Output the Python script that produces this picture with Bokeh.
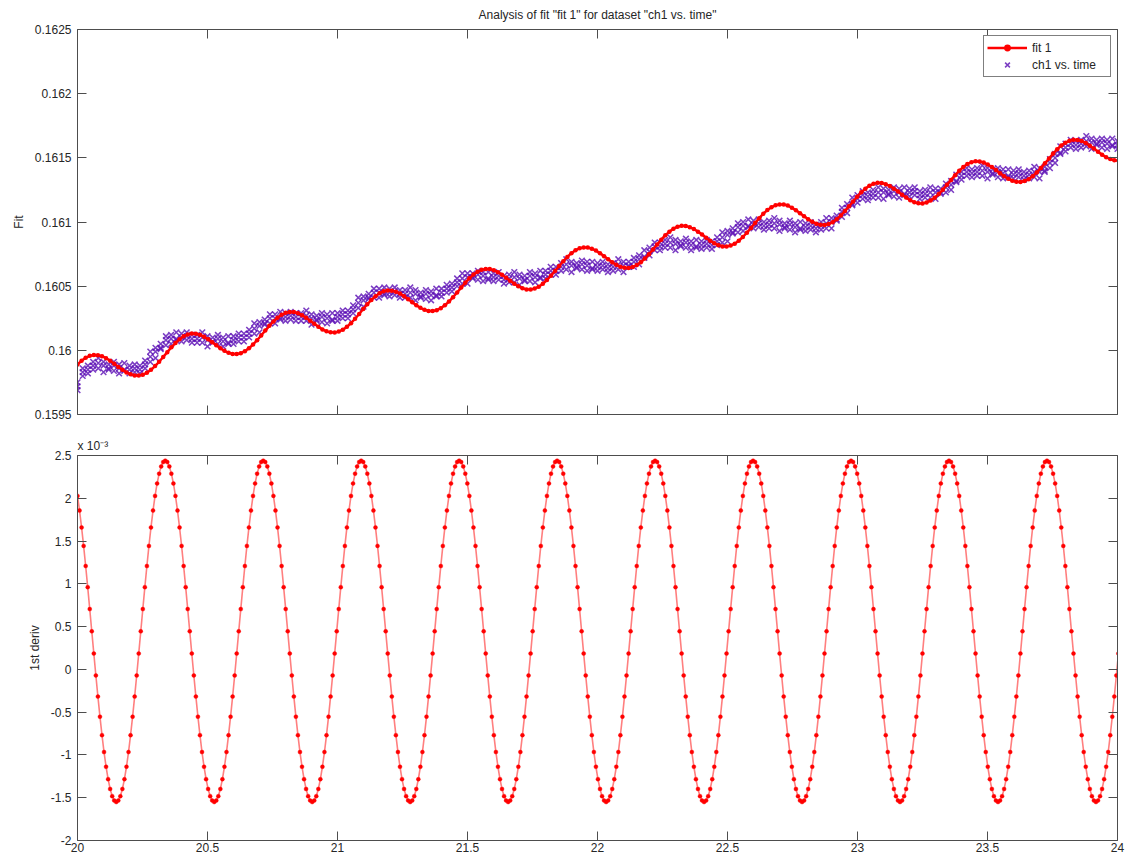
import numpy as np
from bokeh.plotting import figure
from bokeh.layouts import column
from bokeh.models import (Range1d, FixedTicker, LinearAxis, CustomJSTickFormatter,
                          Legend, LegendItem, Title)
from bokeh.embed import file_html
from bokeh.resources import INLINE

FONT = "Liberation Sans"
TXT = "#262626"
AXC = "#4d4d4d"

title_text = 'Analysis of fit "fit 1" for dataset "ch1 vs. time"'
x_ticks = [20, 20.5, 21, 21.5, 22, 22.5, 23, 23.5, 24]
fit_y_ticks = [0.1595, 0.16, 0.1605, 0.161, 0.1615, 0.162, 0.1625]
deriv_y_ticks = [-2, -1.5, -1, -0.5, 0, 0.5, 1, 1.5, 2, 2.5]

# fit 1 curve (sampled every 0.0157 from t = 20)
fit_t0, fit_dt = 20.0, 0.0157
fit1 = [
    0.159890, 0.159919, 0.159942, 0.159957, 0.159964, 0.159962, 0.159954, 0.159939, 0.159919, 0.159896, 0.159871, 0.159848, 0.159828, 0.159813, 0.159804, 0.159803, 0.159810, 0.159825, 0.159848, 0.159877, 0.159911, 0.159948, 0.159986, 0.160024,
    0.160057, 0.160087, 0.160109, 0.160124, 0.160131, 0.160130, 0.160121, 0.160106, 0.160086, 0.160063, 0.160039, 0.160016, 0.159996, 0.159981, 0.159972, 0.159971, 0.159978, 0.159993, 0.160016, 0.160045, 0.160079, 0.160116, 0.160154, 0.160191,
    0.160225, 0.160254, 0.160277, 0.160292, 0.160299, 0.160298, 0.160289, 0.160274, 0.160254, 0.160231, 0.160207, 0.160183, 0.160163, 0.160148, 0.160140, 0.160139, 0.160146, 0.160161, 0.160183, 0.160212, 0.160246, 0.160283, 0.160322, 0.160359,
    0.160393, 0.160422, 0.160445, 0.160460, 0.160467, 0.160465, 0.160457, 0.160442, 0.160422, 0.160399, 0.160374, 0.160351, 0.160331, 0.160316, 0.160307, 0.160306, 0.160313, 0.160328, 0.160351, 0.160380, 0.160414, 0.160451, 0.160489, 0.160527,
    0.160561, 0.160590, 0.160612, 0.160627, 0.160634, 0.160633, 0.160625, 0.160609, 0.160589, 0.160566, 0.160542, 0.160519, 0.160499, 0.160484, 0.160475, 0.160474, 0.160481, 0.160496, 0.160519, 0.160548, 0.160582, 0.160619, 0.160657, 0.160694,
    0.160728, 0.160757, 0.160780, 0.160795, 0.160802, 0.160801, 0.160792, 0.160777, 0.160757, 0.160734, 0.160710, 0.160686, 0.160666, 0.160651, 0.160643, 0.160642, 0.160649, 0.160664, 0.160686, 0.160715, 0.160749, 0.160786, 0.160825, 0.160862,
    0.160896, 0.160925, 0.160948, 0.160963, 0.160970, 0.160968, 0.160960, 0.160945, 0.160925, 0.160902, 0.160877, 0.160854, 0.160834, 0.160819, 0.160810, 0.160809, 0.160816, 0.160831, 0.160854, 0.160883, 0.160917, 0.160954, 0.160992, 0.161030,
    0.161064, 0.161093, 0.161115, 0.161130, 0.161137, 0.161136, 0.161128, 0.161112, 0.161092, 0.161069, 0.161045, 0.161022, 0.161002, 0.160987, 0.160978, 0.160977, 0.160984, 0.160999, 0.161022, 0.161051, 0.161085, 0.161122, 0.161160, 0.161197,
    0.161231, 0.161260, 0.161283, 0.161298, 0.161305, 0.161304, 0.161295, 0.161280, 0.161260, 0.161237, 0.161213, 0.161190, 0.161169, 0.161154, 0.161146, 0.161145, 0.161152, 0.161167, 0.161189, 0.161218, 0.161252, 0.161290, 0.161328, 0.161365,
    0.161399, 0.161428, 0.161451, 0.161466, 0.161473, 0.161471, 0.161463, 0.161448, 0.161428, 0.161405, 0.161380, 0.161357, 0.161337, 0.161322, 0.161313, 0.161312, 0.161319, 0.161334, 0.161357, 0.161386, 0.161420, 0.161457, 0.161495, 0.161533,
    0.161567, 0.161596, 0.161618, 0.161633, 0.161640, 0.161639, 0.161631, 0.161615, 0.161595, 0.161572, 0.161548, 0.161525, 0.161505, 0.161490, 0.161481, 0.161480,
]

# 1st derivative of fit 1, in units of 1e-3 (sampled every 0.00785 from t = 20)
deriv_t0, deriv_dt = 20.0, 0.00785
deriv_e3 = [
    2.028, 1.856, 1.659, 1.443, 1.208, 0.961, 0.705, 0.445, 0.185, -0.071, -0.318, -0.553, -0.769, -0.966, -1.138, -1.283, -1.398, -1.482, -1.533, -1.55, -1.533, -1.482, -1.398, -1.283, -1.138, -0.966, -0.769, -0.553, -0.318, -0.071, 0.185, 0.445, 0.705, 0.961, 1.208, 1.443, 1.659, 1.856, 2.028, 2.173, 2.288, 2.372, 2.423,
    2.44, 2.423, 2.372, 2.288, 2.173, 2.028, 1.856, 1.659, 1.443, 1.208, 0.961, 0.705, 0.445, 0.185, -0.071, -0.318, -0.553, -0.769, -0.966, -1.138, -1.283, -1.398, -1.482, -1.533, -1.55, -1.533, -1.482, -1.398, -1.283, -1.138, -0.966, -0.769, -0.553, -0.318, -0.071, 0.185, 0.445, 0.705, 0.961, 1.208, 1.443, 1.659, 1.856, 2.028, 2.173, 2.288, 2.372, 2.423,
    2.44, 2.423, 2.372, 2.288, 2.173, 2.028, 1.856, 1.659, 1.443, 1.208, 0.961, 0.705, 0.445, 0.185, -0.071, -0.318, -0.553, -0.769, -0.966, -1.138, -1.283, -1.398, -1.482, -1.533, -1.55, -1.533, -1.482, -1.398, -1.283, -1.138, -0.966, -0.769, -0.553, -0.318, -0.071, 0.185, 0.445, 0.705, 0.961, 1.208, 1.443, 1.659, 1.856, 2.028, 2.173, 2.288, 2.372, 2.423,
    2.44, 2.423, 2.372, 2.288, 2.173, 2.028, 1.856, 1.659, 1.443, 1.208, 0.961, 0.705, 0.445, 0.185, -0.071, -0.318, -0.553, -0.769, -0.966, -1.138, -1.283, -1.398, -1.482, -1.533, -1.55, -1.533, -1.482, -1.398, -1.283, -1.138, -0.966, -0.769, -0.553, -0.318, -0.071, 0.185, 0.445, 0.705, 0.961, 1.208, 1.443, 1.659, 1.856, 2.028, 2.173, 2.288, 2.372, 2.423,
    2.44, 2.423, 2.372, 2.288, 2.173, 2.028, 1.856, 1.659, 1.443, 1.208, 0.961, 0.705, 0.445, 0.185, -0.071, -0.318, -0.553, -0.769, -0.966, -1.138, -1.283, -1.398, -1.482, -1.533, -1.55, -1.533, -1.482, -1.398, -1.283, -1.138, -0.966, -0.769, -0.553, -0.318, -0.071, 0.185, 0.445, 0.705, 0.961, 1.208, 1.443, 1.659, 1.856, 2.028, 2.173, 2.288, 2.372, 2.423,
    2.44, 2.423, 2.372, 2.288, 2.173, 2.028, 1.856, 1.659, 1.443, 1.208, 0.961, 0.705, 0.445, 0.185, -0.071, -0.318, -0.553, -0.769, -0.966, -1.138, -1.283, -1.398, -1.482, -1.533, -1.55, -1.533, -1.482, -1.398, -1.283, -1.138, -0.966, -0.769, -0.553, -0.318, -0.071, 0.185, 0.445, 0.705, 0.961, 1.208, 1.443, 1.659, 1.856, 2.028, 2.173, 2.288, 2.372, 2.423,
    2.44, 2.423, 2.372, 2.288, 2.173, 2.028, 1.856, 1.659, 1.443, 1.208, 0.961, 0.705, 0.445, 0.185, -0.071, -0.318, -0.553, -0.769, -0.966, -1.138, -1.283, -1.398, -1.482, -1.533, -1.55, -1.533, -1.482, -1.398, -1.283, -1.138, -0.966, -0.769, -0.553, -0.318, -0.071, 0.185, 0.445, 0.705, 0.961, 1.208, 1.443, 1.659, 1.856, 2.028, 2.173, 2.288, 2.372, 2.423,
    2.44, 2.423, 2.372, 2.288, 2.173, 2.028, 1.856, 1.659, 1.443, 1.208, 0.961, 0.705, 0.445, 0.185, -0.071, -0.318, -0.553, -0.769, -0.966, -1.138, -1.283, -1.398, -1.482, -1.533, -1.55, -1.533, -1.482, -1.398, -1.283, -1.138, -0.966, -0.769, -0.553, -0.318, -0.071, 0.185, 0.445, 0.705, 0.961, 1.208, 1.443, 1.659, 1.856, 2.028, 2.173, 2.288, 2.372, 2.423,
    2.44, 2.423, 2.372, 2.288, 2.173, 2.028, 1.856, 1.659, 1.443, 1.208, 0.961, 0.705, 0.445, 0.185, -0.071, -0.318, -0.553, -0.769, -0.966, -1.138, -1.283, -1.398, -1.482, -1.533, -1.55, -1.533, -1.482, -1.398, -1.283, -1.138, -0.966, -0.769, -0.553, -0.318, -0.071, 0.185, 0.445, 0.705, 0.961, 1.208, 1.443, 1.659, 1.856, 2.028, 2.173, 2.288, 2.372, 2.423,
    2.44, 2.423, 2.372, 2.288, 2.173, 2.028, 1.856, 1.659, 1.443, 1.208, 0.961, 0.705, 0.445, 0.185, -0.071, -0.318, -0.553, -0.769, -0.966, -1.138, -1.283, -1.398, -1.482, -1.533, -1.55, -1.533, -1.482, -1.398, -1.283, -1.138, -0.966, -0.769, -0.553, -0.318, -0.071, 0.185, 0.445, 0.705, 0.961, 1.208, 1.443, 1.659, 1.856, 2.028, 2.173, 2.288, 2.372, 2.423,
    2.44, 2.423, 2.372, 2.288, 2.173, 2.028, 1.856, 1.659, 1.443, 1.208, 0.961, 0.705, 0.445, 0.185, -0.071, -0.318, -0.553, -0.769, -0.966, -1.138, -1.283, -1.398, -1.482, -1.533, -1.55, -1.533, -1.482, -1.398, -1.283, -1.138, -0.966, -0.769, -0.553, -0.318, -0.071, 0.185,
]

# ch1 vs. time: three rows of samples (every 0.02 from t = 20)
ch1_t0, ch1_dt = 20.0, 0.02
ch1_hi = [
    0.15975, 0.15986, 0.15988, 0.15991, 0.15994, 0.15991, 0.15989, 0.15991, 0.15989, 0.15990, 0.15988, 0.15989, 0.15988, 0.15992, 0.15999, 0.16002, 0.16005, 0.16011, 0.16012, 0.16014,
    0.16013, 0.16014, 0.16012, 0.16012, 0.16014, 0.16011, 0.16010, 0.16012, 0.16010, 0.16011, 0.16011, 0.16013, 0.16013, 0.16016, 0.16021, 0.16022, 0.16024, 0.16028, 0.16028, 0.16030,
    0.16029, 0.16030, 0.16029, 0.16029, 0.16031, 0.16028, 0.16027, 0.16029, 0.16028, 0.16029, 0.16029, 0.16031, 0.16031, 0.16035, 0.16041, 0.16042, 0.16044, 0.16048, 0.16048, 0.16049,
    0.16048, 0.16049, 0.16047, 0.16047, 0.16049, 0.16047, 0.16045, 0.16047, 0.16046, 0.16048, 0.16048, 0.16051, 0.16052, 0.16056, 0.16060, 0.16060, 0.16060, 0.16062, 0.16061, 0.16061,
    0.16060, 0.16061, 0.16058, 0.16059, 0.16061, 0.16059, 0.16058, 0.16061, 0.16060, 0.16062, 0.16062, 0.16065, 0.16065, 0.16068, 0.16071, 0.16069, 0.16068, 0.16070, 0.16069, 0.16069,
    0.16068, 0.16069, 0.16067, 0.16068, 0.16071, 0.16069, 0.16069, 0.16072, 0.16074, 0.16078, 0.16080, 0.16084, 0.16084, 0.16086, 0.16088, 0.16086, 0.16085, 0.16087, 0.16085, 0.16086,
    0.16085, 0.16086, 0.16085, 0.16088, 0.16092, 0.16093, 0.16095, 0.16099, 0.16100, 0.16102, 0.16101, 0.16102, 0.16100, 0.16101, 0.16103, 0.16101, 0.16099, 0.16101, 0.16099, 0.16100,
    0.16099, 0.16100, 0.16098, 0.16100, 0.16103, 0.16103, 0.16105, 0.16111, 0.16114, 0.16119, 0.16121, 0.16124, 0.16123, 0.16125, 0.16127, 0.16126, 0.16125, 0.16127, 0.16126, 0.16127,
    0.16126, 0.16127, 0.16124, 0.16125, 0.16127, 0.16126, 0.16126, 0.16130, 0.16132, 0.16137, 0.16139, 0.16142, 0.16141, 0.16142, 0.16144, 0.16142, 0.16141, 0.16142, 0.16141, 0.16141,
    0.16140, 0.16141, 0.16139, 0.16140, 0.16143, 0.16142, 0.16143, 0.16149, 0.16153, 0.16159, 0.16161, 0.16164, 0.16163, 0.16164, 0.16167, 0.16165, 0.16164, 0.16165, 0.16164, 0.16165,
    0.16163,
]
ch1_mid = [
    0.15972, 0.15983, 0.15985, 0.15988, 0.15990, 0.15988, 0.15986, 0.15988, 0.15986, 0.15985, 0.15985, 0.15986, 0.15985, 0.15989, 0.15995, 0.15999, 0.16002, 0.16008, 0.16009, 0.16009,
    0.16010, 0.16011, 0.16009, 0.16009, 0.16010, 0.16008, 0.16007, 0.16009, 0.16007, 0.16006, 0.16008, 0.16010, 0.16010, 0.16013, 0.16017, 0.16019, 0.16021, 0.16025, 0.16025, 0.16025,
    0.16026, 0.16027, 0.16026, 0.16026, 0.16027, 0.16025, 0.16024, 0.16026, 0.16025, 0.16024, 0.16026, 0.16028, 0.16028, 0.16032, 0.16037, 0.16039, 0.16041, 0.16045, 0.16045, 0.16044,
    0.16045, 0.16046, 0.16044, 0.16044, 0.16045, 0.16044, 0.16042, 0.16044, 0.16043, 0.16043, 0.16045, 0.16048, 0.16049, 0.16053, 0.16056, 0.16057, 0.16057, 0.16059, 0.16058, 0.16056,
    0.16057, 0.16058, 0.16055, 0.16056, 0.16057, 0.16056, 0.16055, 0.16058, 0.16057, 0.16057, 0.16059, 0.16062, 0.16062, 0.16065, 0.16067, 0.16066, 0.16065, 0.16067, 0.16066, 0.16064,
    0.16065, 0.16066, 0.16064, 0.16065, 0.16067, 0.16066, 0.16066, 0.16069, 0.16071, 0.16073, 0.16077, 0.16081, 0.16081, 0.16083, 0.16084, 0.16083, 0.16082, 0.16084, 0.16082, 0.16081,
    0.16082, 0.16083, 0.16082, 0.16085, 0.16088, 0.16090, 0.16092, 0.16096, 0.16097, 0.16097, 0.16098, 0.16099, 0.16097, 0.16098, 0.16099, 0.16098, 0.16096, 0.16098, 0.16096, 0.16095,
    0.16096, 0.16097, 0.16095, 0.16097, 0.16099, 0.16100, 0.16102, 0.16108, 0.16111, 0.16114, 0.16118, 0.16121, 0.16120, 0.16122, 0.16123, 0.16123, 0.16122, 0.16124, 0.16123, 0.16122,
    0.16123, 0.16124, 0.16121, 0.16122, 0.16123, 0.16123, 0.16123, 0.16127, 0.16129, 0.16132, 0.16136, 0.16139, 0.16138, 0.16139, 0.16140, 0.16139, 0.16138, 0.16139, 0.16138, 0.16136,
    0.16137, 0.16138, 0.16136, 0.16137, 0.16139, 0.16139, 0.16140, 0.16146, 0.16150, 0.16154, 0.16158, 0.16161, 0.16160, 0.16161, 0.16163, 0.16162, 0.16161, 0.16162, 0.16161, 0.16160,
    0.16160,
]
ch1_lo = [
    0.15969, 0.15980, 0.15982, 0.15985, 0.15986, 0.15983, 0.15985, 0.15984, 0.15982, 0.15984, 0.15982, 0.15983, 0.15982, 0.15986, 0.15991, 0.15994, 0.16001, 0.16004, 0.16005, 0.16008,
    0.16007, 0.16008, 0.16006, 0.16006, 0.16006, 0.16003, 0.16006, 0.16005, 0.16003, 0.16005, 0.16005, 0.16007, 0.16007, 0.16010, 0.16013, 0.16014, 0.16020, 0.16021, 0.16021, 0.16024,
    0.16023, 0.16024, 0.16023, 0.16023, 0.16023, 0.16020, 0.16023, 0.16022, 0.16021, 0.16023, 0.16023, 0.16025, 0.16025, 0.16029, 0.16033, 0.16034, 0.16040, 0.16041, 0.16041, 0.16043,
    0.16042, 0.16043, 0.16041, 0.16041, 0.16041, 0.16039, 0.16041, 0.16040, 0.16039, 0.16042, 0.16042, 0.16045, 0.16046, 0.16050, 0.16052, 0.16052, 0.16056, 0.16055, 0.16054, 0.16055,
    0.16054, 0.16055, 0.16052, 0.16053, 0.16053, 0.16051, 0.16054, 0.16054, 0.16053, 0.16056, 0.16056, 0.16059, 0.16059, 0.16062, 0.16063, 0.16061, 0.16064, 0.16063, 0.16062, 0.16063,
    0.16062, 0.16063, 0.16061, 0.16062, 0.16063, 0.16061, 0.16065, 0.16065, 0.16067, 0.16072, 0.16074, 0.16078, 0.16078, 0.16080, 0.16080, 0.16078, 0.16081, 0.16080, 0.16078, 0.16080,
    0.16079, 0.16080, 0.16079, 0.16082, 0.16084, 0.16085, 0.16091, 0.16092, 0.16093, 0.16096, 0.16095, 0.16096, 0.16094, 0.16095, 0.16095, 0.16093, 0.16095, 0.16094, 0.16092, 0.16094,
    0.16093, 0.16094, 0.16092, 0.16094, 0.16095, 0.16095, 0.16101, 0.16104, 0.16107, 0.16113, 0.16115, 0.16118, 0.16117, 0.16119, 0.16119, 0.16118, 0.16121, 0.16120, 0.16119, 0.16121,
    0.16120, 0.16121, 0.16118, 0.16119, 0.16119, 0.16118, 0.16122, 0.16123, 0.16125, 0.16131, 0.16133, 0.16136, 0.16135, 0.16136, 0.16136, 0.16134, 0.16137, 0.16135, 0.16134, 0.16135,
    0.16134, 0.16135, 0.16133, 0.16134, 0.16135, 0.16134, 0.16139, 0.16142, 0.16146, 0.16153, 0.16155, 0.16158, 0.16157, 0.16158, 0.16159, 0.16157, 0.16160, 0.16158, 0.16157, 0.16159,
    0.16157,
]

fit_t = fit_t0 + fit_dt * np.arange(len(fit1))
deriv_t = deriv_t0 + deriv_dt * np.arange(len(deriv_e3))
ch1_t1 = ch1_t0 + ch1_dt * np.arange(len(ch1_hi))
ch1_t2 = ch1_t0 + ch1_dt * np.arange(len(ch1_mid))
ch1_t3 = ch1_t0 + ch1_dt * np.arange(len(ch1_lo))
ch1_t = np.concatenate([ch1_t1, ch1_t2, ch1_t3])
ch1_y = np.concatenate([ch1_hi, ch1_mid, ch1_lo])

fmt_code = "return String(parseFloat(tick.toFixed(6)));"


def style_axis(ax, ticks, show_labels):
    ax.ticker = FixedTicker(ticks=ticks)
    ax.formatter = CustomJSTickFormatter(code=fmt_code)
    ax.major_tick_in = 9
    ax.major_tick_out = 0
    ax.minor_tick_line_color = None
    ax.axis_line_color = AXC
    ax.axis_line_width = 1
    ax.major_tick_line_color = AXC
    ax.major_tick_line_width = 1
    ax.major_label_text_font = FONT
    if show_labels:
        ax.major_label_text_color = TXT
        ax.major_label_text_font_size = "12px"
        ax.major_label_standoff = 6
    else:
        ax.major_label_text_color = None
        ax.major_label_text_font_size = "1px"
        ax.major_label_standoff = 0
    ax.axis_label_text_font = FONT
    ax.axis_label_text_font_size = "12px"
    ax.axis_label_text_font_style = "normal"
    ax.axis_label_text_color = TXT
    ax.axis_label_standoff = 6


def make_fig(yr, top, bottom, fh):
    p = figure(frame_width=1040, frame_height=fh,
               x_range=Range1d(20, 24), y_range=Range1d(*yr),
               output_backend="svg", toolbar_location=None,
               min_border_left=77, min_border_right=9,
               min_border_top=top, min_border_bottom=bottom)
    p.xgrid.visible = False
    p.ygrid.visible = False
    p.outline_line_color = None
    p.background_fill_color = "white"
    p.border_fill_color = "white"
    return p


# ---------- top panel ----------
p1 = make_fig((0.1595, 0.1625), 29, 19, 385)
p1.title.text = title_text
p1.title.align = "center"
p1.title.vertical_align = "middle"
p1.title.text_font = FONT
p1.title.text_font_size = "12px"
p1.title.text_font_style = "normal"
p1.title.text_color = TXT
p1.title.standoff = 13

style_axis(p1.xaxis[0], x_ticks, False)
style_axis(p1.yaxis[0], fit_y_ticks, True)
p1.yaxis[0].axis_label = "Fit"
ax_r = LinearAxis()
style_axis(ax_r, fit_y_ticks, False)
p1.add_layout(ax_r, "right")
ax_t = LinearAxis()
style_axis(ax_t, x_ticks, False)
p1.add_layout(ax_t, "above")

r_data = p1.scatter(ch1_t, ch1_y, marker="x", size=8, line_color="#5a0cb4",
                    line_alpha=0.8, line_width=1.5)
r_fit_line = p1.line(fit_t, fit1, line_color="#ff0000", line_width=2.5)
r_fit_dots = p1.scatter(fit_t, fit1, marker="circle", size=4.5, fill_color="#ff0000",
                        line_color=None)

legend = Legend(items=[LegendItem(label="fit 1", renderers=[r_fit_line, r_fit_dots]),
                       LegendItem(label="ch1 vs. time", renderers=[r_data])],
                location="top_right")
legend.margin = 6
legend.padding = 3
legend.spacing = 0
legend.glyph_width = 40
legend.glyph_height = 17
legend.label_height = 17
legend.label_width = 75
legend.label_standoff = 5
legend.label_text_font = FONT
legend.label_text_font_size = "12px"
legend.label_text_color = TXT
legend.border_line_color = "black"
legend.border_line_width = 1
legend.background_fill_color = "white"
legend.background_fill_alpha = 1
p1.add_layout(legend)

# ---------- bottom panel ----------
p2 = make_fig((-2, 2.5), 20, 15, 385)
style_axis(p2.xaxis[0], x_ticks, True)
p2.xaxis[0].major_label_standoff = 2
style_axis(p2.yaxis[0], deriv_y_ticks, True)
p2.yaxis[0].axis_label = "1st deriv"
ax_r2 = LinearAxis()
style_axis(ax_r2, deriv_y_ticks, False)
p2.add_layout(ax_r2, "right")
ax_t2 = LinearAxis()
style_axis(ax_t2, x_ticks, False)
p2.add_layout(ax_t2, "above")

p2.line(deriv_t, deriv_e3, line_color="#ff0000", line_width=1.6, line_alpha=0.5)
p2.scatter(deriv_t, deriv_e3, marker="circle", size=4, fill_color="#ff0000",
           line_color="#ff0000", line_width=0.4)

scale_title = Title(text="x 10\u207b\u00b3", align="left", text_font=FONT,
                    text_font_size="12px", text_font_style="normal",
                    text_color=TXT, standoff=6)
p2.add_layout(scale_title, "above")

layout = column(p1, p2, spacing=0)
open("out.html", "w").write(file_html(layout, INLINE))
